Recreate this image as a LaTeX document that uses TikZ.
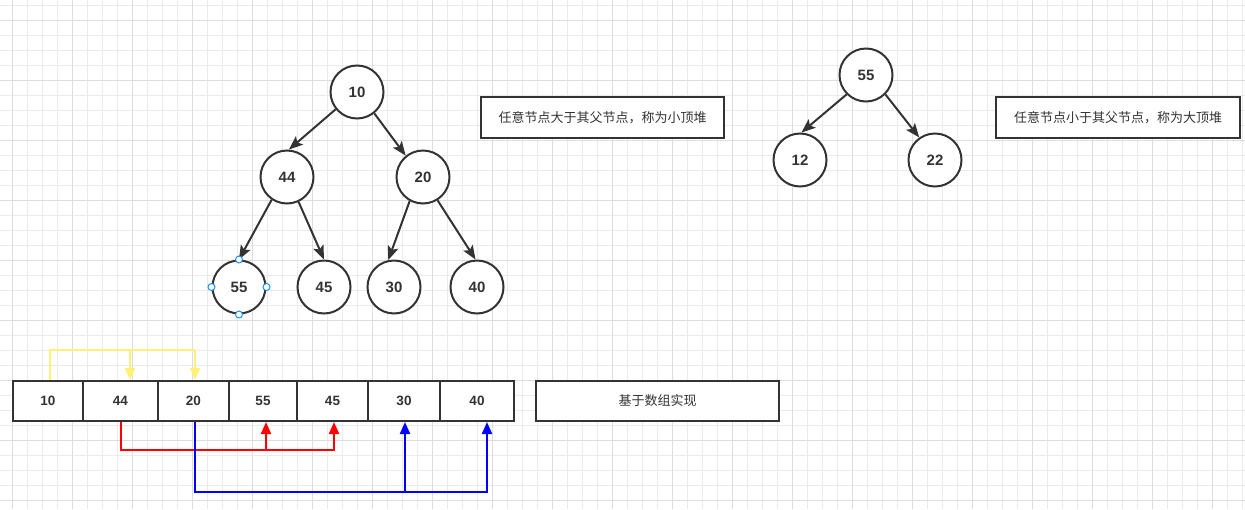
\documentclass[tikz,border=0pt]{standalone}
\usepackage{fontspec}
\setmainfont{Liberation Sans}
\newfontfamily\cjk{Noto Sans CJK SC}
\usetikzlibrary{arrows.meta,calc}
\definecolor{ink}{HTML}{333333}
\definecolor{gridminor}{HTML}{EBEBEB}
\definecolor{gridmajor}{HTML}{DDDDDD}
\definecolor{yel}{HTML}{FFF176}
\definecolor{handle}{HTML}{1E90FF}
\tikzset{
  tnode/.style={circle,draw=ink,line width=2pt,minimum size=53pt,inner sep=0pt,fill=white,
    text=ink,font=\fontsize{15}{17}\selectfont\bfseries},
  edge/.style={draw=ink,line width=2pt,-{Stealth[length=14pt,width=11pt,inset=3pt]}},
  tbox/.style={draw=ink,line width=2pt,fill=white,inner sep=0pt,text=ink,
    font=\cjk\fontsize{13}{15}\selectfont},
  cell/.style={draw=ink,line width=2pt,fill=white,inner sep=0pt,minimum height=40pt,
    text=ink,font=\fontsize{13.5}{15}\selectfont\bfseries},
  yl/.style={draw=yel,line width=2pt},
  rl/.style={draw=red,line width=2pt},
  bl/.style={draw=blue,line width=2pt},
  tipa/.style={-{Triangle[length=12pt,width=10pt]}},
  hdl/.style={circle,draw=handle,fill=white,line width=1pt,minimum size=7pt,inner sep=0pt},
}
\begin{document}
\begin{tikzpicture}[x=1pt,y=-1pt]
\useasboundingbox (0,0) rectangle (1245,509);
\fill[white] (0,0) rectangle (1245,509);
% grid
\foreach \i in {0,...,82} {
  \pgfmathsetmacro\xx{12.7+15*\i}
  \draw[gridminor,line width=1pt] (\xx,0) -- (\xx,509);
}
\foreach \i in {0,...,33} {
  \pgfmathsetmacro\yy{5.3+15*\i}
  \draw[gridminor,line width=1pt] (0,\yy) -- (1245,\yy);
}
\foreach \i in {0,...,20} {
  \pgfmathsetmacro\xx{12.7+60*\i}
  \draw[gridmajor,line width=1pt] (\xx,0) -- (\xx,509);
}
\foreach \i in {0,...,8} {
  \pgfmathsetmacro\yy{20.3+60*\i}
  \draw[gridmajor,line width=1pt] (0,\yy) -- (1245,\yy);
}

% left tree
\node[tnode] (t10) at (357,92) {10};
\node[tnode] (t44) at (287,177) {44};
\node[tnode] (t20) at (423,177) {20};
\node[tnode] (t55) at (239,287) {55};
\node[tnode] (t45) at (324,287) {45};
\node[tnode] (t30) at (394,287) {30};
\node[tnode] (t40) at (477,287) {40};
\draw[edge] (t10.219) -- (t44.86);
\draw[edge] (t10.309) -- (t20.129);
\draw[edge] (t44.236) -- (t55.90);
\draw[edge] (t44.295) -- (t45.90);
\draw[edge] (t20.241) -- (t30.102);
\draw[edge] (t20.302) -- (t40.93);
% selection handles on 55
\node[hdl] (h1) at (t55.north) {};
\node[hdl] (h2) at (t55.south) {};
\node[hdl] (h3) at (t55.east) {};
\node[hdl] (h4) at (t55.west) {};

% right tree
\node[tnode] (r55) at (866,75) {55};
\node[tnode] (r12) at (800,160) {12};
\node[tnode] (r22) at (935,160) {22};
\draw[edge] (r55.225) -- (r12.87);
\draw[edge] (r55.315) -- (r22.125);

% text boxes
\node[tbox,minimum width=243pt,minimum height=41pt] (txt1) at (602.5,117.5) {任意节点大于其父节点，称为小顶堆};
\node[tbox,minimum width=244pt,minimum height=41pt] (txt2) at (1118,117.5) {任意节点小于其父节点，称为大顶堆};
\node[tbox,minimum width=243pt,minimum height=40pt] (txt3) at (657.5,401) {基于数组实现};

% array
\node[cell,minimum width=70pt] (a1) at (48,401) {10};
\node[cell,minimum width=75pt] (a2) at (120.5,401) {44};
\node[cell,minimum width=71pt] (a3) at (193.5,401) {20};
\node[cell,minimum width=68pt] (a4) at (263,401) {55};
\node[cell,minimum width=71pt] (a5) at (332.5,401) {45};
\node[cell,minimum width=72pt] (a6) at (404,401) {30};
\node[cell,minimum width=74pt] (a7) at (477,401) {40};

% yellow connectors
\coordinate (y0) at (50,350);
\coordinate (y1) at (195,350);
\coordinate (y2) at (130,350);
\draw[yl,tipa] (y0 |- a1.north) -- (y0) -- (y1) -- (y1 |- a3.north);
\draw[yl,tipa] (y2) -- (y2 |- a2.north);
% red connectors
\coordinate (q0) at (121,450);
\coordinate (q1) at (334,450);
\coordinate (q2) at (266,450);
\draw[rl,tipa] (q0 |- a2.south) -- (q0) -- (q1) -- (q1 |- a5.south);
\draw[rl,tipa] (q2) -- (q2 |- a4.south);
% blue connectors
\coordinate (p0) at (195,492);
\coordinate (p1) at (487,492);
\coordinate (p2) at (405,492);
\draw[bl,tipa] (p0 |- a3.south) -- (p0) -- (p1) -- (p1 |- a7.south);
\draw[bl,tipa] (p2) -- (p2 |- a6.south);
\end{tikzpicture}
\end{document}
